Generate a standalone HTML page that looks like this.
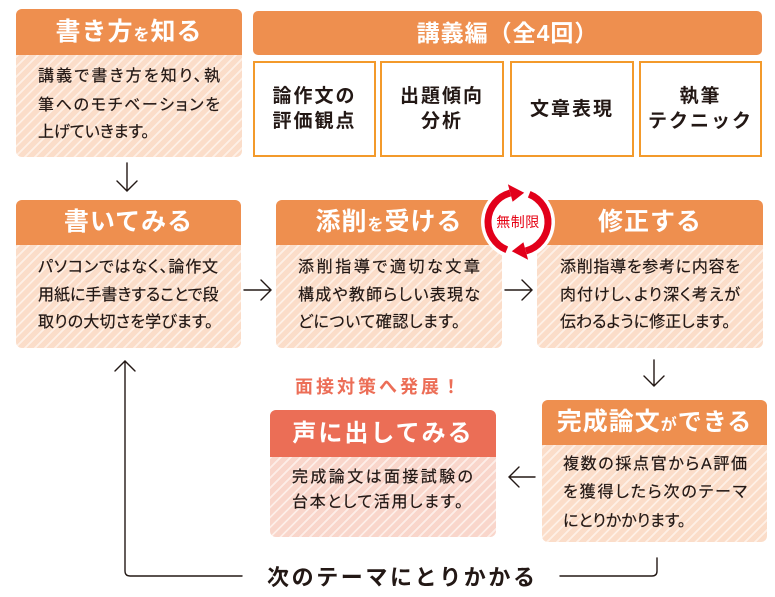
<!DOCTYPE html>
<html><head><meta charset="utf-8">
<style>
*{margin:0;padding:0;box-sizing:border-box}
body{width:775px;height:597px;background:#fff;position:relative;overflow:hidden;font-family:"Liberation Sans","Noto Sans CJK JP",sans-serif;color:#231815}
.box{position:absolute;border-radius:6px;overflow:hidden;background:repeating-linear-gradient(135deg,#FBDDC9 0 5.2px,#FEF0E6 5.2px 7px)}
.box.c{background:repeating-linear-gradient(135deg,#F9D6CB 0 5.2px,#FDEEE8 5.2px 7px)}
.hd{position:absolute;left:0;right:0;top:0;background:#EE8F4F;color:#fff;font-weight:bold;text-align:center;white-space:nowrap;font-size:25px;letter-spacing:1px}
.box.c .hd{background:#EB6E56}
.hd small{font-size:16px}
.ln{position:absolute;font-size:16px;white-space:nowrap;height:28px;line-height:28px;font-feature-settings:"palt";text-align:justify;text-align-last:justify;-webkit-text-stroke:0.2px #231815}
.lec{position:absolute;top:61px;height:96px;border:2px solid #F39A2B;background:#fff;display:flex;align-items:center;justify-content:center;text-align:center;font-weight:bold;font-size:19px;line-height:25px;letter-spacing:2px}
</style></head><body>

<!-- 書き方を知る -->
<div class="box" style="left:16px;top:9px;width:226px;height:148px">
  <div class="hd" style="height:46px;line-height:46px">書き方<small>を</small>知る</div>
</div>
<div class="ln" style="left:38px;top:63px;width:182px">講義で書き方を知り、執</div>
<div class="ln" style="left:38px;top:92px;width:182px">筆へのモチベーションを</div>
<div class="ln" style="left:38px;top:119px;width:109px">上げていきます。</div>

<!-- 講義編 -->
<div style="position:absolute;left:253px;top:11px;width:509px;height:44px;border-radius:5px;background:#EE8F4F;color:#fff;font-weight:bold;font-size:23px;letter-spacing:1px;text-align:center;line-height:44px">講義編（全4回）</div>
<div class="lec" style="left:253px;width:123px">論作文の<br>評価観点</div>
<div class="lec" style="left:380px;width:124px">出題傾向<br>分析</div>
<div class="lec" style="left:510px;width:124px">文章表現</div>
<div class="lec" style="left:639px;width:123px">執筆<br>テクニック</div>

<!-- 書いてみる -->
<div class="box" style="left:16px;top:200px;width:225px;height:148px">
  <div class="hd" style="height:45px;line-height:45px">書いてみる</div>
</div>
<div class="ln" style="left:38px;top:254px;width:180px">パソコンではなく、論作文</div>
<div class="ln" style="left:38px;top:282px;width:180px">用紙に手書きすることで段</div>
<div class="ln" style="left:38px;top:309px;width:175px">取りの大切さを学びます。</div>

<!-- 添削を受ける -->
<div class="box" style="left:276px;top:200px;width:226px;height:148px">
  <div class="hd" style="height:45px;line-height:45px">添削<small>を</small>受ける</div>
</div>
<div class="ln" style="left:298px;top:254px;width:182px">添削指導で適切な文章</div>
<div class="ln" style="left:298px;top:282px;width:182px">構成や教師らしい表現な</div>
<div class="ln" style="left:298px;top:309px;width:162px">どについて確認します。</div>

<!-- 修正する -->
<div class="box" style="left:537px;top:200px;width:226px;height:148px">
  <div class="hd" style="height:45px;line-height:45px">修正する</div>
</div>
<div class="ln" style="left:560px;top:254px;width:180px">添削指導を参考に内容を</div>
<div class="ln" style="left:560px;top:282px;width:180px">肉付けし、より深く考えが</div>
<div class="ln" style="left:560px;top:309px;width:167px">伝わるように修正します。</div>

<!-- 完成論文ができる -->
<div class="box" style="left:542px;top:400px;width:225px;height:142px">
  <div class="hd" style="height:45px;line-height:45px">完成論文<small>が</small><span style="font-size:24px">できる</span></div>
</div>
<div class="ln" style="left:563px;top:451px;width:184px">複数の採点官からA評価</div>
<div class="ln" style="left:563px;top:479px;width:184px">を獲得したら次のテーマ</div>
<div class="ln" style="left:563px;top:508px;width:120px">にとりかかります。</div>

<!-- 面接対策へ発展！ -->
<div style="position:absolute;left:295px;top:375px;height:24px;line-height:24px;font-size:18px;font-weight:bold;letter-spacing:3px;color:#EC6E57;white-space:nowrap">面接対策へ発展！</div>

<!-- 声に出してみる -->
<div class="box c" style="left:270px;top:410px;width:226px;height:127px">
  <div class="hd" style="height:47px;line-height:47px;font-size:24px;letter-spacing:2px">声に出してみる</div>
</div>
<div class="ln" style="left:292px;top:464px;width:181px">完成論文は面接試験の</div>
<div class="ln" style="left:292px;top:489px;width:171px">台本として活用します。</div>

<!-- bottom text -->
<div style="position:absolute;left:267px;top:564px;height:28px;line-height:28px;font-size:22px;font-weight:bold;letter-spacing:2.6px;white-space:nowrap">次のテーマにとりかかる</div>

<svg width="775" height="597" style="position:absolute;left:0;top:0" xmlns="http://www.w3.org/2000/svg">
  <g stroke="#231815" stroke-width="1.4" fill="none" stroke-linecap="round" stroke-linejoin="miter">
    <path d="M127 163 V191 M117 181 L127 191 L137 181"/>
    <path d="M244 290 H271 M261 280 L271 290 L261 300"/>
    <path d="M505 290 H532 M522 280 L532 290 L522 300"/>
    <path d="M654 360 V386 M644 376 L654 386 L664 376"/>
    <path d="M535 477 H509 M519 467 L509 477 L519 487"/>
    <path d="M242 576 H130 Q125 576 125 571 V361 M115 371 L125 361 L135 371"/>
    <path d="M560 576 H652 Q657 576 657 571 V558"/>
  </g>
  <!-- badge -->
  <circle cx="518" cy="222" r="37" fill="#fff"/>
  <g stroke="#E2001A" stroke-width="7" fill="none">
    <path d="M506.8 249.8 A30 30 0 0 1 510.2 193.0"/>
    <path d="M529.2 194.2 A30 30 0 0 1 525.8 251.0"/>
  </g>
  <polygon points="507.9,184.3 512.6,201.7 524.2,192.7" fill="#E2001A"/>
  <polygon points="523.4,242.3 528.1,259.7 511.8,251.3" fill="#E2001A"/>
  <text x="518" y="227" text-anchor="middle" font-family="Liberation Sans, Noto Sans CJK JP, sans-serif" font-size="14" fill="#E60012" letter-spacing="0.5">無制限</text>
</svg>
</body></html>
